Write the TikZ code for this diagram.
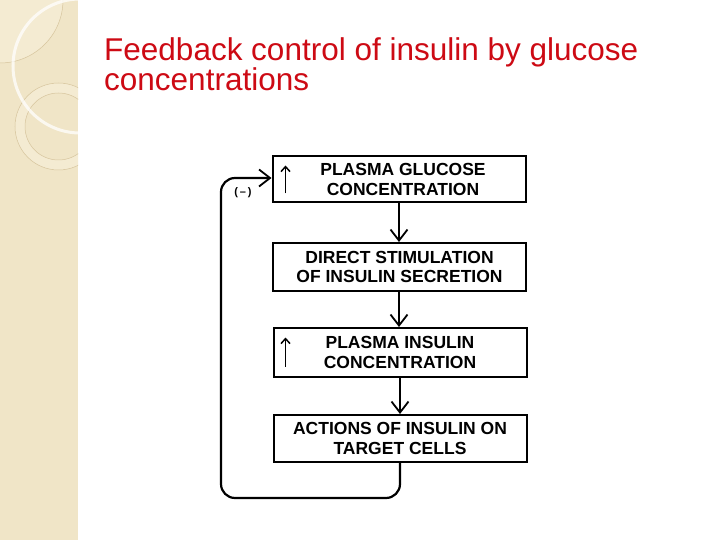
\documentclass[tikz,border=0pt]{standalone}
\usepackage{fontspec}
\setmainfont{Liberation Sans}
\usetikzlibrary{arrows.meta}
\definecolor{side}{RGB}{240,229,199}
\definecolor{sidelight}{RGB}{244,235,210}
\definecolor{sideline}{RGB}{214,196,156}
\definecolor{titlered}{RGB}{205,10,20}
\tikzset{
  stagebox/.style={draw, line width=2pt, minimum width=253pt, minimum height=46pt,
    inner sep=0pt, align=center, font=\bfseries\fontsize{17.5}{19.5}\selectfont},
  conn/.style={line width=2.2pt, -{Straight Barb[length=11pt,width=17pt,line width=1.8pt]}},
  uparrow/.style={line width=1.7pt, -{Straight Barb[length=5pt,width=9pt,line width=1.5pt]}},
  titletext/.style={anchor=base west, text=titlered, inner sep=0pt,
    font=\fontsize{31.5}{30}\selectfont}
}
\begin{document}
\begin{tikzpicture}[x=1pt,y=-1pt]
\useasboundingbox (0,0) rectangle (720,540);
\fill[white] (0,0) rectangle (720,540);
% sidebar
\begin{scope}
  \clip (0,0) rectangle (78,540);
  \fill[side] (0,0) rectangle (78,540);
  \fill[sidelight] (0,0) circle[radius=63];
  \draw[sideline, line width=0.5pt] (0,0) circle[radius=63];
  \fill[sidelight, even odd rule] (58.5,126.5) circle[radius=43.5] (58.5,126.5) circle[radius=33.5];
  \draw[sideline, line width=0.5pt] (58.5,126.5) circle[radius=43.5];
  \draw[sideline, line width=0.5pt] (58.5,126.5) circle[radius=33.5];
  \draw[white, opacity=0.75, line width=3pt] (80,66) circle[radius=67];
\end{scope}
% title
\node[titletext] (t1) at (104,60.5) {Feedback control of insulin by glucose};
\node[titletext] (t2) at (104,90.5) {concentrations};
% boxes
\node[stagebox] (b1) at (399,179.5) {\hspace*{8pt}PLASMA GLUCOSE\\\hspace*{8pt}CONCENTRATION};
\node[stagebox, minimum height=48pt] (b2) at (399.5,267) {DIRECT STIMULATION\\OF INSULIN SECRETION};
\node[stagebox, minimum height=49pt] (b3) at (400,352.5) {PLASMA INSULIN\\CONCENTRATION};
\node[stagebox, minimum height=47pt] (b4) at (400,438.5) {ACTIONS OF INSULIN ON\\TARGET CELLS};
% up arrows
\draw[uparrow] ([xshift=14pt,yshift=-14pt]b1.west) -- ([xshift=14pt,yshift=14pt]b1.west);
\draw[uparrow] ([xshift=13pt,yshift=-14pt]b3.west) -- ([xshift=13pt,yshift=15pt]b3.west);
% connectors
\draw[conn] (b1.south -| 399,0) -- (b2.north -| 399,0);
\draw[conn] (b2.south -| 399,0) -- (b3.north -| 399,0);
\draw[conn] (b3.south -| 400,0) -- (b4.north -| 400,0);
\coordinate (lb) at (221,498);
\coordinate (lt) at (221,178);
\draw[conn, rounded corners=14pt] (b4.south) |- (lb) -- (lt) -- (b1.west |- lt);
\node[font=\bfseries\fontsize{11}{11}\selectfont] (neg) at (243,193) {(\,–\,)};
\end{tikzpicture}
\end{document}
